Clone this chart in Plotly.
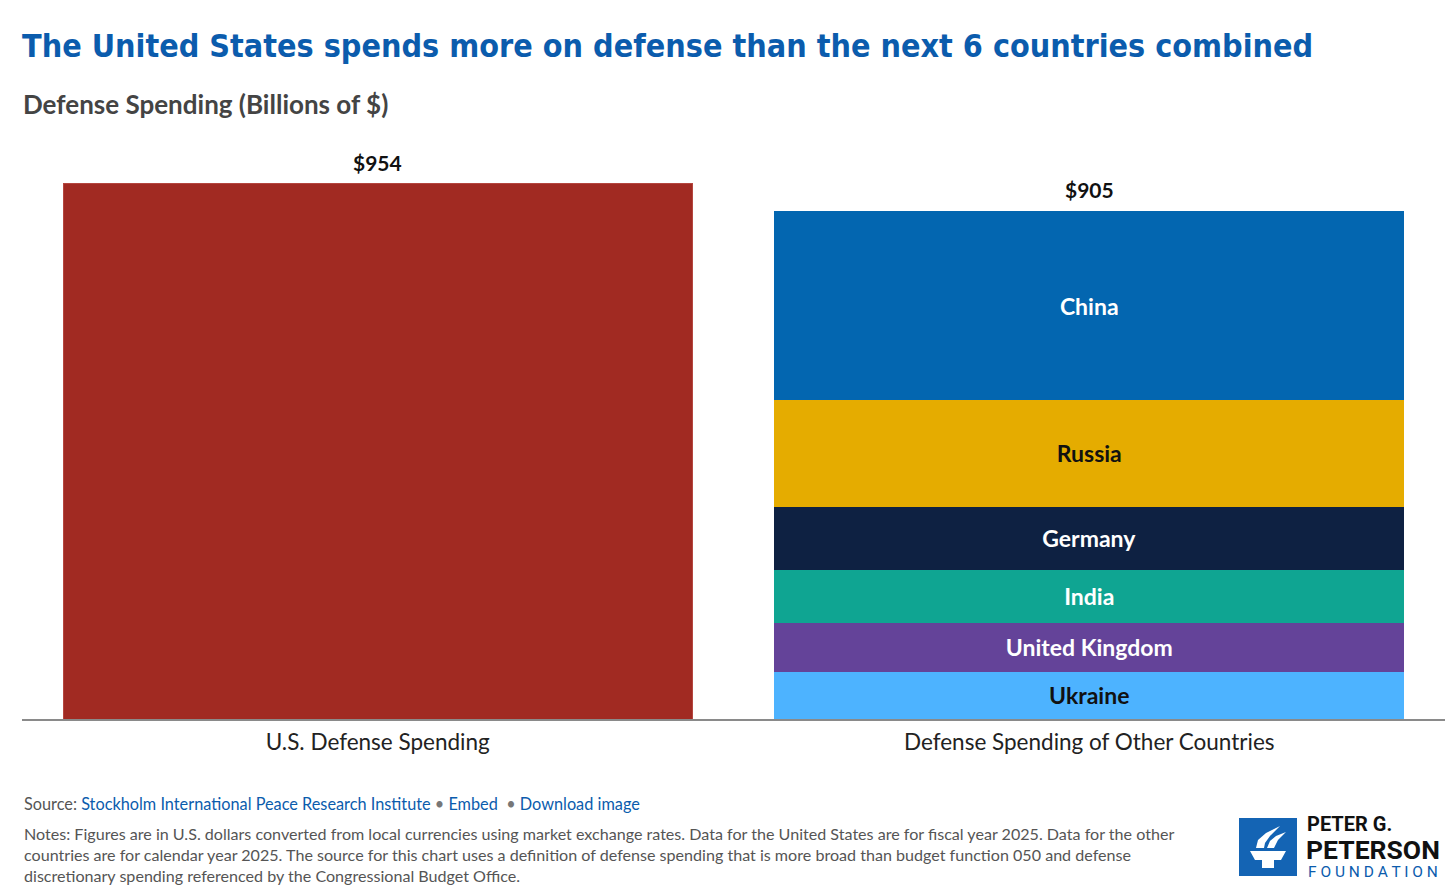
import plotly.graph_objects as go

# ---- data ----
categories = ["U.S. Defense Spending", "Defense Spending of Other Countries"]
us_value = 954
countries = ["China", "Russia", "Germany", "India", "United Kingdom", "Ukraine"]
country_values = [336, 190, 113, 94, 88, 84]
country_colors = ["#0366B0", "#E5AC00", "#0E2142", "#0FA592", "#644399", "#4DB3FF"]
country_text_colors = ["#FFFFFF", "#111111", "#FFFFFF", "#FFFFFF", "#FFFFFF", "#111111"]
us_color = "#A12A22"

title_text = "The United States spends more on defense than the next 6 countries combined"
subtitle_text = "Defense Spending (Billions of $)"

W, H = 1456, 891
ML, MR, MT, MB = 22, 11, 158, 172
PW, PH = W - ML - MR, H - MT - MB


def fx(px):
    return (px - ML) / PW


def fy(py):
    return (H - MB - py) / PH


fig = go.Figure()

fig.add_trace(go.Bar(
    x=[categories[0]], y=[us_value], marker=dict(color=us_color, line=dict(color="#B5463F", width=1)),
    showlegend=False, hoverinfo="skip",
))

# stack bottom-up: last country at bottom
for name, val, col, tcol in reversed(list(zip(countries, country_values, country_colors, country_text_colors))):
    fig.add_trace(go.Bar(
        x=[categories[1]], y=[val], name=name,
        marker=dict(color=col, line=dict(color=col, width=1)),
        text=[f"<b>{name}</b>"], textposition="inside", insidetextanchor="middle", textangle=0,
        insidetextfont=dict(family="Lato", size=23, color=tcol),
        constraintext="none",
        showlegend=False, hoverinfo="skip",
    ))

totals = [us_value, sum(country_values)]
annotations = []
for cat, tot in zip(categories, totals):
    annotations.append(dict(
        x=cat, y=tot, xref="x", yref="y", text=f"<b>${tot}</b>", showarrow=False,
        yanchor="bottom", yshift=7, font=dict(family="Lato", size=21, color="#111111"),
    ))


def pann(x, y, text, font, xanchor="left", yanchor="middle", align="left"):
    annotations.append(dict(x=fx(x), y=fy(y), xref="paper", yref="paper", text=text, showarrow=False,
                            xanchor=xanchor, yanchor=yanchor, align=align, font=font))


pann(20, 46, f"<b>{title_text}</b>",
     dict(family="DejaVu Sans Condensed, Roboto", size=32, color="#0B5CAD"))
pann(21, 104, f"<b>{subtitle_text}</b>", dict(family="Lato", size=26, color="#444444"))

link = "#0B5CAD"
src = ("Source: <span style='color:%s'>Stockholm International Peace Research Institute</span>"
       " <span style='color:#777'>•</span> <span style='color:%s'>Embed</span>"
       "  <span style='color:#777'>•</span> <span style='color:%s'>Download image</span>") % (link, link, link)
pann(22, 803, src, dict(family="Lato", size=16.3, color="#555555"))
notes = ("Notes: Figures are in U.S. dollars converted from local currencies using market exchange rates. Data for the United States are for fiscal year 2025. Data for the other<br>"
         "countries are for calendar year 2025. The source for this chart uses a definition of defense spending that is more broad than budget function 050 and defense<br>"
         "discretionary spending referenced by the Congressional Budget Office.")
pann(22, 822, notes, dict(family="Lato", size=16.1, color="#555555"), yanchor="top")

# logo text
pann(1305, 824, "<b>PETER G.</b>", dict(family="Roboto", size=20, color="#111111"))
pann(1304, 850, "<b>PETERSON</b>", dict(family="Roboto", size=26.5, color="#111111"))
pann(1306, 872, "F O U N D A T I O N", dict(family="Roboto", size=15.5, color="#0B5CAD"))


def path_px(pts):
    s = "M " + " L ".join(f"{fx(x):.5f} {fy(y):.5f}" for x, y in pts) + " Z"
    return s


shapes = [
    dict(type="rect", xref="paper", yref="paper", x0=fx(1239), x1=fx(1297), y0=fy(876), y1=fy(818),
         fillcolor="#1464B4", line=dict(width=0), layer="above"),
    dict(type="path", xref="paper", yref="paper",
         path=path_px([(1250, 851), (1286, 851), (1281, 860), (1274, 860), (1274, 868), (1262, 868), (1262, 860), (1255, 860)]),
         fillcolor="#FFFFFF", line=dict(width=0), layer="above"),
    dict(type="path", xref="paper", yref="paper",
         path=path_px([(1256, 848), (1258, 840), (1266, 833), (1280, 826), (1270, 836), (1265, 843), (1264, 848)]),
         fillcolor="#FFFFFF", line=dict(width=0), layer="above"),
    dict(type="path", xref="paper", yref="paper",
         path=path_px([(1267, 848), (1270, 841), (1276, 836), (1286, 832), (1278, 840), (1274, 848)]),
         fillcolor="#FFFFFF", line=dict(width=0), layer="above"),
]

fig.update_layout(
    width=W, height=H,
    margin=dict(l=ML, r=MR, t=MT, b=MB),
    barmode="stack", bargap=0.116,
    paper_bgcolor="white", plot_bgcolor="white",
    xaxis=dict(showline=True, linecolor="#8A8A8A", linewidth=2, ticks="", showgrid=False,
               ticklabelstandoff=2,
               tickfont=dict(family="Lato", size=22.5, color="#222222"), fixedrange=True),
    yaxis=dict(range=[0, 1000], visible=False, showgrid=False, fixedrange=True),
    annotations=annotations, shapes=shapes,
    font=dict(family="Lato"),
)

fig.write_html("out.html")
